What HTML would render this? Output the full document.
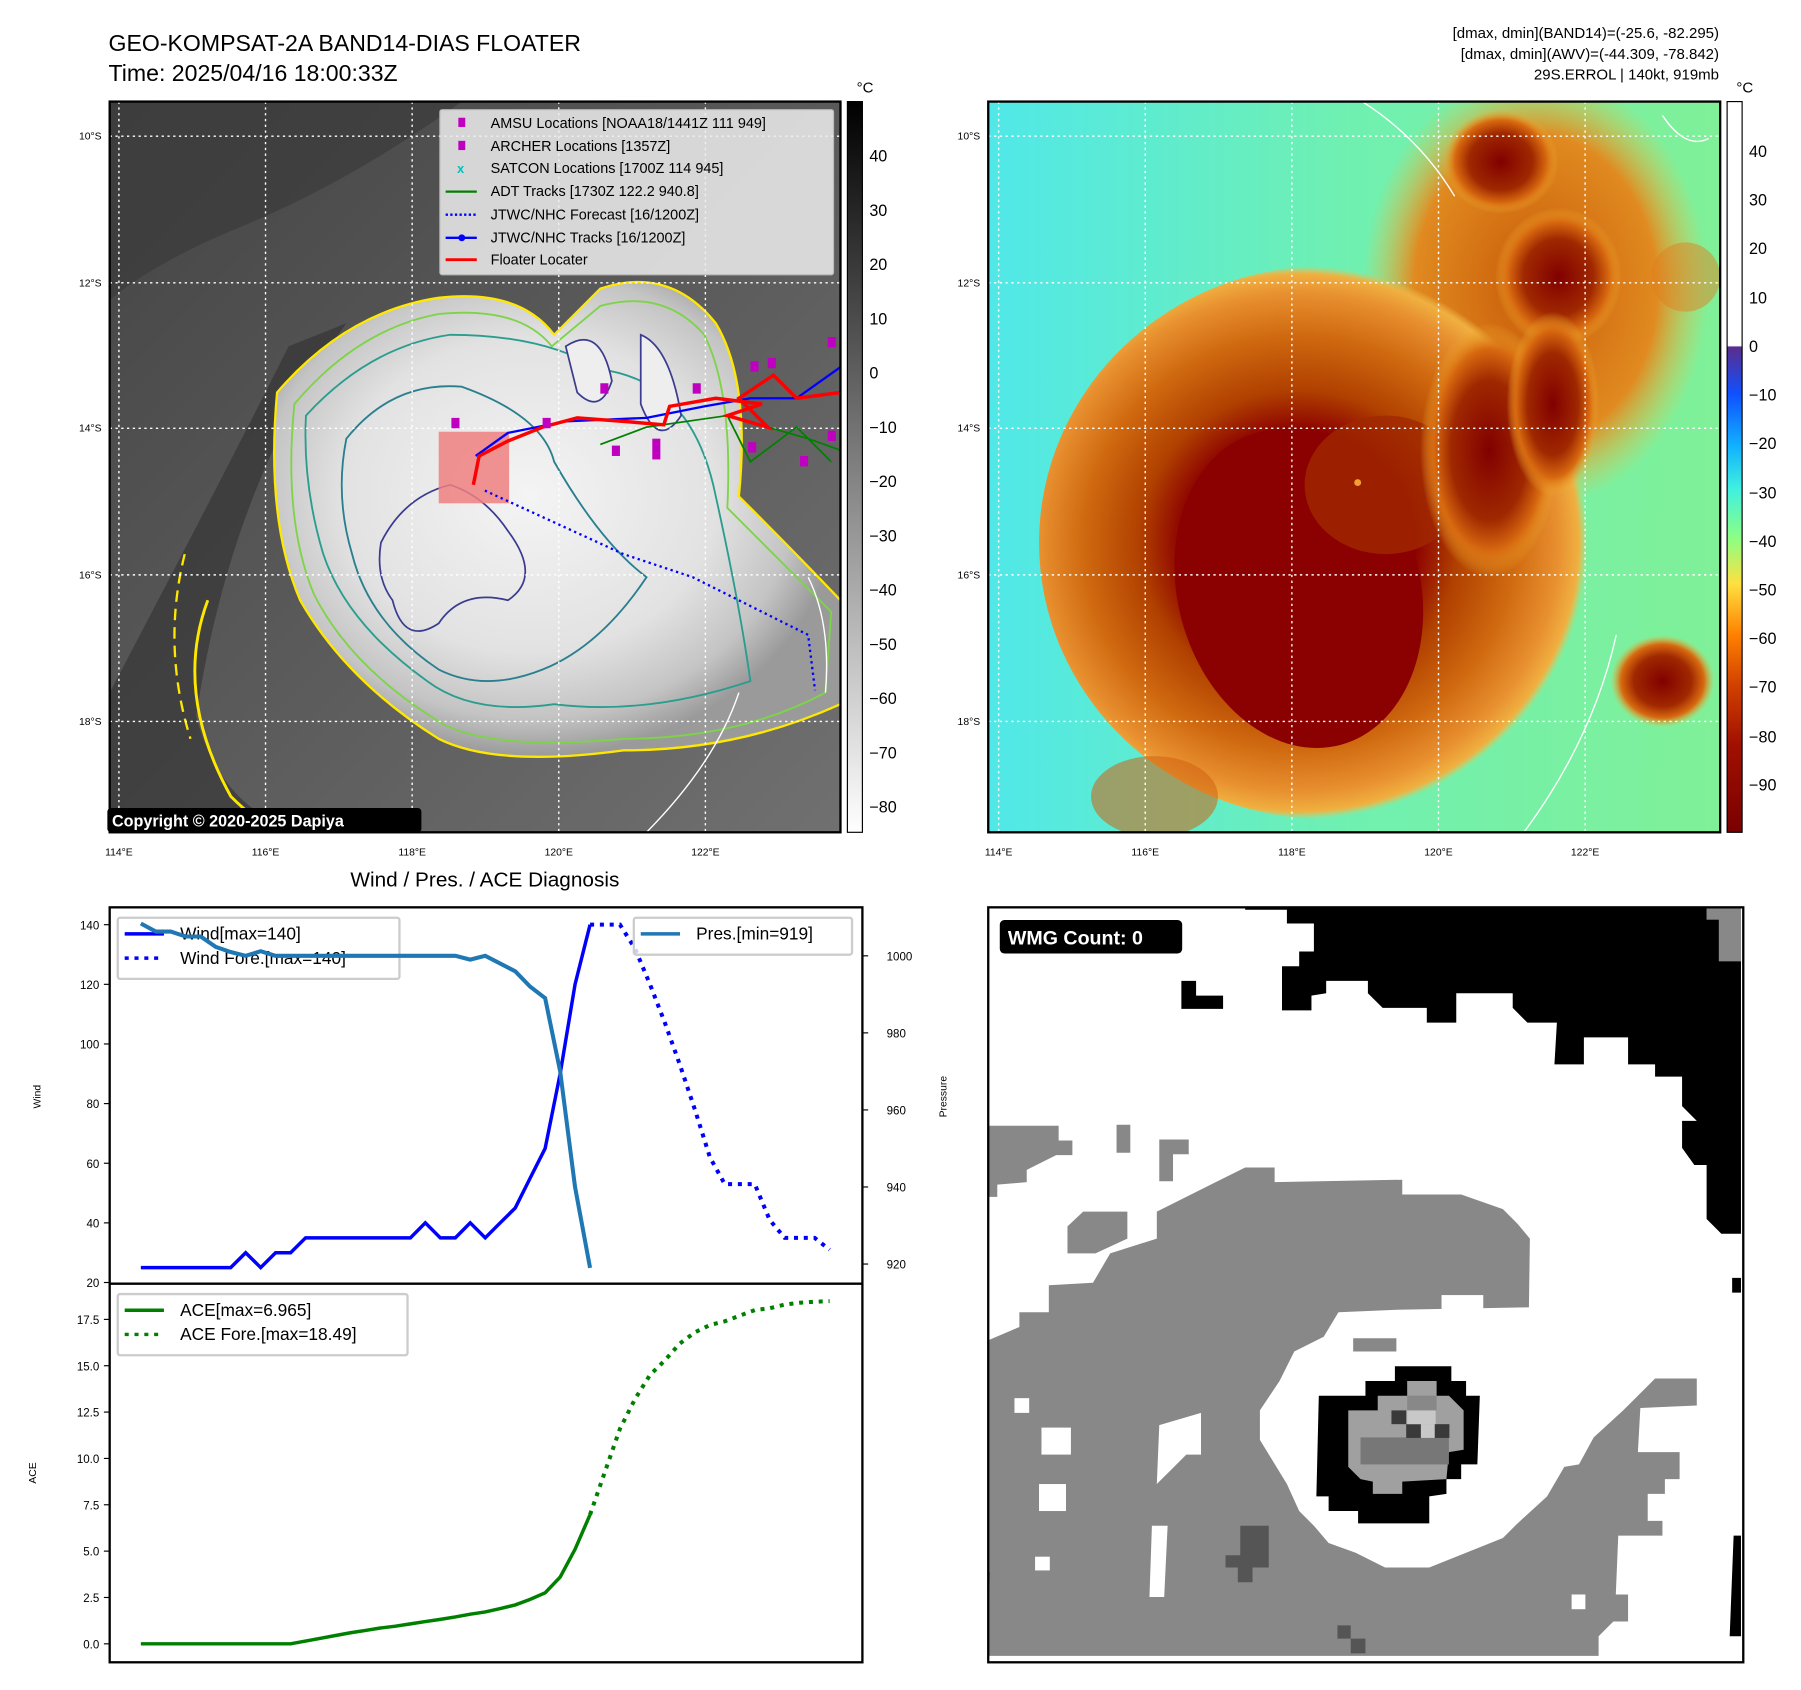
<!DOCTYPE html>
<html><head><meta charset="utf-8">
<style>
html,body{margin:0;padding:0;background:#fff;}
svg{display:block;}
text{font-family:"Liberation Sans","DejaVu Sans",sans-serif;}
</style></head>
<body>
<svg id="fig" width="1801" height="1690" viewBox="0 0 1560 1464" preserveAspectRatio="none" xmlns="http://www.w3.org/2000/svg">
<defs>
 <radialGradient id="cloudG" cx="0.45" cy="0.45" r="0.55">
  <stop offset="0" stop-color="#f4f4f4"/><stop offset="0.6" stop-color="#e2e2e2"/><stop offset="0.85" stop-color="#c4c4c4"/><stop offset="1" stop-color="#9a9a9a"/>
 </radialGradient>
 <linearGradient id="bgL" x1="0" y1="0" x2="1" y2="1">
  <stop offset="0" stop-color="#444"/><stop offset="0.5" stop-color="#5a5a5a"/><stop offset="1" stop-color="#707070"/>
 </linearGradient>
 <linearGradient id="cbL" x1="0" y1="0" x2="0" y2="1">
  <stop offset="0" stop-color="#000"/><stop offset="1" stop-color="#fff"/>
 </linearGradient>
 <linearGradient id="cbR" x1="0" y1="0" x2="0" y2="1">
  <stop offset="0" stop-color="#fff"/><stop offset="0.334" stop-color="#fff"/>
  <stop offset="0.336" stop-color="#5a2d8c"/><stop offset="0.40" stop-color="#1050ff"/>
  <stop offset="0.47" stop-color="#10b0ff"/><stop offset="0.53" stop-color="#40f0e0"/>
  <stop offset="0.60" stop-color="#90ff80"/><stop offset="0.66" stop-color="#ffe040"/>
  <stop offset="0.73" stop-color="#ff8000"/><stop offset="0.80" stop-color="#d04000"/>
  <stop offset="0.88" stop-color="#a01000"/><stop offset="1" stop-color="#7a0000"/>
 </linearGradient>
 <radialGradient id="stormR" cx="0.45" cy="0.5" r="0.5">
  <stop offset="0" stop-color="#8b0000"/><stop offset="0.4" stop-color="#8b0000"/><stop offset="0.55" stop-color="#b04000"/>
  <stop offset="0.75" stop-color="#d06a10"/><stop offset="0.9" stop-color="#e89030"/><stop offset="0.97" stop-color="#f0b040"/><stop offset="1" stop-color="#f0c050" stop-opacity="0"/>
 </radialGradient>
 <linearGradient id="bgR" x1="0" y1="0" x2="1" y2="0">
  <stop offset="0" stop-color="#50e8e8"/><stop offset="0.5" stop-color="#70f0b0"/><stop offset="1" stop-color="#80f098"/>
 </linearGradient>
 <radialGradient id="blob" cx="0.5" cy="0.5" r="0.5">
  <stop offset="0" stop-color="#800000"/><stop offset="0.55" stop-color="#a02800"/><stop offset="0.8" stop-color="#d86a10"/><stop offset="1" stop-color="#f0b030" stop-opacity="0"/>
 </radialGradient>
 <radialGradient id="blobO" cx="0.5" cy="0.5" r="0.5">
  <stop offset="0" stop-color="#c85a08"/><stop offset="0.7" stop-color="#e08a20"/><stop offset="1" stop-color="#f0c040" stop-opacity="0"/>
 </radialGradient>
 <clipPath id="clipL"><rect x="95" y="88" width="633" height="633"/></clipPath>
 <clipPath id="clipR"><rect x="856" y="88" width="634" height="633"/></clipPath>
 <clipPath id="clipB"><rect x="856" y="786" width="654" height="654"/></clipPath>
</defs>

<text x="94" y="44" font-size="20">GEO-KOMPSAT-2A BAND14-DIAS FLOATER</text>
<text x="94" y="70" font-size="20">Time: 2025/04/16 18:00:33Z</text>
<g font-size="13" text-anchor="end">
 <text x="1489" y="33">[dmax, dmin](BAND14)=(-25.6, -82.295)</text>
 <text x="1489" y="51">[dmax, dmin](AWV)=(-44.309, -78.842)</text>
 <text x="1489" y="69">29S.ERROL | 140kt, 919mb</text>
</g>

<!-- LEFT MAP -->
<g clip-path="url(#clipL)">
 <rect x="95" y="88" width="633" height="633" fill="url(#bgL)"/>
 <path d="M95,600 Q200,400 250,300 L300,280 Q200,420 170,620 Q190,700 260,721 L95,721Z" fill="#303030" opacity="0.6"/>
 <path d="M95,88 L400,88 Q300,160 200,200 Q130,230 95,260Z" fill="#3a3a3a" opacity="0.7"/>
 <path d="M240,340 Q300,270 380,258 Q450,250 480,290 L520,250 Q580,230 620,280 Q650,330 640,430 Q690,480 728,520 L728,610 Q640,650 540,650 Q430,665 380,640 Q300,590 260,520 Q230,450 240,340Z" fill="url(#cloudG)" stroke="#ffe800" stroke-width="2"/>
 <path d="M255,350 Q310,285 380,272 Q450,265 478,300 L520,265 Q575,250 610,290 Q635,340 630,440 Q680,490 720,530 L715,600 Q640,640 540,640 Q430,650 385,628 Q305,580 272,515 Q245,450 255,350Z" fill="none" stroke="#7ed348" stroke-width="1.6"/>
 <path d="M265,360 Q320,300 390,290 Q470,290 520,320 Q600,330 620,430 Q640,520 650,590 Q560,620 480,610 Q410,620 370,590 Q300,540 280,480 Q262,420 265,360Z" fill="none" stroke="#2a9d8f" stroke-width="1.6"/>
 <path d="M300,380 Q340,330 400,335 Q470,360 480,400 Q520,470 560,500 Q520,560 470,580 Q420,600 380,580 Q320,540 305,480 Q290,430 300,380Z" fill="none" stroke="#2a7f8f" stroke-width="1.6"/>
 <path d="M330,470 Q350,430 390,420 Q420,430 440,460 Q470,500 440,520 Q400,510 380,540 Q350,560 340,520 Q325,500 330,470Z" fill="none" stroke="#3b3b8f" stroke-width="1.5"/>
 <path d="M490,300 Q520,280 530,330 Q520,360 500,340Z M555,290 Q580,300 590,360 Q570,390 555,350Z" fill="#eee" stroke="#3b3b8f" stroke-width="1.5"/>
 <path d="M180,520 Q150,600 200,690 Q230,720 250,720" fill="none" stroke="#ffe800" stroke-width="2.5"/>
 <path d="M160,480 Q140,560 165,640" fill="none" stroke="#ffe800" stroke-width="2" stroke-dasharray="10 6"/>
 <path d="M640,600 Q620,660 560,721 M700,500 Q720,540 715,600" fill="none" stroke="#fff" stroke-width="1.2"/>
 <g stroke="#fff" stroke-width="1.2" stroke-dasharray="2 3">
  <line x1="95" y1="118" x2="728" y2="118"/><line x1="95" y1="245" x2="728" y2="245"/><line x1="95" y1="371" x2="728" y2="371"/><line x1="95" y1="498" x2="728" y2="498"/><line x1="95" y1="625" x2="728" y2="625"/>
  <line x1="103" y1="88" x2="103" y2="721"/><line x1="230" y1="88" x2="230" y2="721"/><line x1="357" y1="88" x2="357" y2="721"/><line x1="484" y1="88" x2="484" y2="721"/><line x1="611" y1="88" x2="611" y2="721"/>
 </g>
 <rect x="380" y="374" width="61" height="62" fill="#f08080" opacity="0.85"/>
 <path d="M420,425 L540,480 L600,500 L700,550 L706,598" fill="none" stroke="#0000ff" stroke-width="2" stroke-dasharray="2 3"/>
 <path d="M520,385 L560,370 L630,360 L700,380 L728,390 M630,360 L650,400 L690,370 L720,400" fill="none" stroke="#008000" stroke-width="1.5"/>
 <path d="M412,395 L440,375 L490,365 L560,362 L610,352 L650,345 L690,345 L728,318" fill="none" stroke="#0000ff" stroke-width="2"/>
 <path d="M410,420 L415,395 L440,382 L470,370 L500,362 L540,365 L575,368 L580,352 L620,345 L660,350 L630,360 L665,370 L640,345 L670,325 L690,345 L728,340" fill="none" stroke="#ff0000" stroke-width="3"/>
 <g fill="#c000c0">
  <rect x="391" y="362" width="7" height="9"/><rect x="470" y="362" width="7" height="9"/><rect x="520" y="332" width="7" height="9"/><rect x="530" y="386" width="7" height="9"/><rect x="565" y="380" width="7" height="18"/><rect x="600" y="332" width="7" height="9"/><rect x="650" y="313" width="7" height="9"/><rect x="665" y="310" width="7" height="9"/><rect x="648" y="383" width="7" height="9"/><rect x="693" y="395" width="7" height="9"/><rect x="717" y="292" width="7" height="9"/><rect x="717" y="373" width="7" height="9"/>
 </g>
</g>
<rect x="95" y="88" width="633" height="633" fill="none" stroke="#000" stroke-width="2"/>
<g font-size="12.5">
 <rect x="381" y="95" width="341" height="143" fill="#eee" opacity="0.85" stroke="#ccc" rx="2"/>
 <rect x="397" y="102" width="6" height="8" fill="#c000c0"/><text x="425" y="111">AMSU Locations [NOAA18/1441Z 111 949]</text>
 <rect x="397" y="122" width="6" height="8" fill="#c000c0"/><text x="425" y="131">ARCHER Locations [1357Z]</text>
 <text x="396" y="150" fill="#00c0c0" font-size="11" font-weight="bold">x</text><text x="425" y="150">SATCON Locations [1700Z 114 945]</text>
 <line x1="386" y1="166" x2="413" y2="166" stroke="#008000" stroke-width="2"/><text x="425" y="170">ADT Tracks [1730Z 122.2 940.8]</text>
 <line x1="386" y1="186" x2="413" y2="186" stroke="#0000ff" stroke-width="2" stroke-dasharray="2 2"/><text x="425" y="190">JTWC/NHC Forecast [16/1200Z]</text>
 <line x1="386" y1="206" x2="413" y2="206" stroke="#0000ff" stroke-width="2"/><circle cx="400" cy="206" r="3" fill="#0000ff"/><text x="425" y="210">JTWC/NHC Tracks [16/1200Z]</text>
 <line x1="386" y1="225" x2="413" y2="225" stroke="#ff0000" stroke-width="2.5"/><text x="425" y="229">Floater Locater</text>
</g>
<g>
 <rect x="93" y="700" width="272" height="21" rx="3" fill="#000"/>
 <text x="97" y="716" font-size="14" font-weight="bold" fill="#fff">Copyright © 2020-2025 Dapiya</text>
</g>
<g font-size="9">
 <text x="88" y="121" text-anchor="end">10°S</text><text x="88" y="248" text-anchor="end">12°S</text><text x="88" y="374" text-anchor="end">14°S</text><text x="88" y="501" text-anchor="end">16°S</text><text x="88" y="628" text-anchor="end">18°S</text>
 <text x="103" y="741" text-anchor="middle">114°E</text><text x="230" y="741" text-anchor="middle">116°E</text><text x="357" y="741" text-anchor="middle">118°E</text><text x="484" y="741" text-anchor="middle">120°E</text><text x="611" y="741" text-anchor="middle">122°E</text>
</g>
<g>
 <rect x="734" y="88" width="13" height="633" fill="url(#cbL)" stroke="#000" stroke-width="1"/>
 <text x="742" y="80" font-size="13">°C</text>
 <g font-size="14">
  <text x="753" y="140">40</text><text x="753" y="187">30</text><text x="753" y="234">20</text><text x="753" y="281">10</text><text x="753" y="328">0</text><text x="753" y="375">−10</text><text x="753" y="422">−20</text><text x="753" y="469">−30</text><text x="753" y="516">−40</text><text x="753" y="563">−50</text><text x="753" y="610">−60</text><text x="753" y="657">−70</text><text x="753" y="704">−80</text>
 </g>
</g>

<!-- RIGHT MAP -->
<g clip-path="url(#clipR)">
 <rect x="856" y="88" width="634" height="633" fill="url(#bgR)"/>
 <ellipse cx="1330" cy="250" rx="150" ry="190" fill="url(#blobO)"/>
 <ellipse cx="1150" cy="470" rx="250" ry="240" fill="url(#stormR)"/>
 <ellipse cx="1125" cy="510" rx="105" ry="140" fill="#8b0000" transform="rotate(-15 1125 510)"/>
 <ellipse cx="1200" cy="420" rx="70" ry="60" fill="#a02800" opacity="0.8"/>
 <ellipse cx="1290" cy="390" rx="60" ry="110" fill="url(#blob)"/>
 <ellipse cx="1350" cy="240" rx="55" ry="60" fill="url(#blob)"/>
 <ellipse cx="1300" cy="140" rx="50" ry="45" fill="url(#blob)"/>
 <ellipse cx="1345" cy="350" rx="40" ry="80" fill="url(#blob)"/>
 <ellipse cx="1440" cy="590" rx="45" ry="40" fill="url(#blob)"/>
 <ellipse cx="1000" cy="690" rx="55" ry="35" fill="#d06010" opacity="0.55"/>
 <ellipse cx="1460" cy="240" rx="30" ry="30" fill="#e08020" opacity="0.5"/>
 <circle cx="1176" cy="418" r="3" fill="#f0a030"/>
 <path d="M1400,550 Q1380,640 1320,721 M1440,100 Q1460,130 1480,120 M1180,88 Q1230,120 1260,170" fill="none" stroke="#fff" stroke-width="1.2"/>
 <g stroke="#fff" stroke-width="1.2" stroke-dasharray="2 3">
  <line x1="856" y1="118" x2="1490" y2="118"/><line x1="856" y1="245" x2="1490" y2="245"/><line x1="856" y1="371" x2="1490" y2="371"/><line x1="856" y1="498" x2="1490" y2="498"/><line x1="856" y1="625" x2="1490" y2="625"/>
  <line x1="865" y1="88" x2="865" y2="721"/><line x1="992" y1="88" x2="992" y2="721"/><line x1="1119" y1="88" x2="1119" y2="721"/><line x1="1246" y1="88" x2="1246" y2="721"/><line x1="1373" y1="88" x2="1373" y2="721"/>
 </g>
</g>
<rect x="856" y="88" width="634" height="633" fill="none" stroke="#000" stroke-width="2"/>
<g font-size="9">
 <text x="849" y="121" text-anchor="end">10°S</text><text x="849" y="248" text-anchor="end">12°S</text><text x="849" y="374" text-anchor="end">14°S</text><text x="849" y="501" text-anchor="end">16°S</text><text x="849" y="628" text-anchor="end">18°S</text>
 <text x="865" y="741" text-anchor="middle">114°E</text><text x="992" y="741" text-anchor="middle">116°E</text><text x="1119" y="741" text-anchor="middle">118°E</text><text x="1246" y="741" text-anchor="middle">120°E</text><text x="1373" y="741" text-anchor="middle">122°E</text>
</g>
<g>
 <rect x="1496" y="88" width="13" height="633" fill="url(#cbR)" stroke="#000" stroke-width="1"/>
 <text x="1504" y="80" font-size="13">°C</text>
 <g font-size="14">
  <text x="1515" y="136">40</text><text x="1515" y="178">30</text><text x="1515" y="220">20</text><text x="1515" y="263">10</text><text x="1515" y="305">0</text><text x="1515" y="347">−10</text><text x="1515" y="389">−20</text><text x="1515" y="432">−30</text><text x="1515" y="474">−40</text><text x="1515" y="516">−50</text><text x="1515" y="558">−60</text><text x="1515" y="600">−70</text><text x="1515" y="643">−80</text><text x="1515" y="685">−90</text>
 </g>
</g>

<!-- WMG panel -->
<g clip-path="url(#clipB)">
 <rect x="856" y="786" width="654" height="654" fill="#fff"/>
 <g transform="translate(853.2,779.6) scale(0.4252)">
  <path fill="#888" d="M0,900 L70,870 L70,840 L130,840 L130,785 L220,780 L255,720 L350,690 L350,635 L410,605 L470,575 L530,545 L590,545 L590,575 L850,570 L850,600 L970,600 L1055,630 L1085,660 L1110,690 L1108,830 L840,835 L720,840 L690,890 L630,920 L600,980 L560,1040 L560,1100 L615,1190 L640,1245 L670,1275 L700,1310 L755,1330 L815,1360 L905,1360 L1055,1300 L1085,1270 L1145,1215 L1180,1155 L1210,1150 L1240,1095 L1300,1040 L1335,1005 L1365,975 L1450,975 L1450,1030 L1335,1035 L1330,1125 L1415,1125 L1415,1180 L1385,1180 L1385,1210 L1350,1210 L1350,1265 L1380,1265 L1380,1295 L1290,1295 L1285,1415 L1310,1415 L1310,1470 L1280,1470 L1250,1500 L1250,1540 L0,1540Z"/>
  <path fill="#888" d="M0,460 L150,460 L150,490 L178,490 L178,520 L145,520 L85,550 L85,575 L25,580 L25,605 L0,605Z M168,665 L200,635 L290,635 L290,690 L225,720 L168,720Z M268,458 L296,458 L296,515 L268,515Z M355,488 L415,488 L415,518 L383,518 L383,573 L355,573Z M750,893 L838,893 L838,920 L750,920Z M1470,10 L1540,10 L1540,125 L1495,125 L1495,40 L1470,40Z"/>
  <g fill="#fff">
   <path d="M355,1070 L440,1045 L440,1130 L410,1130 L380,1160 L350,1190Z"/>
   <path d="M340,1275 L372,1275 L365,1420 L335,1420Z"/>
   <rect x="115" y="1075" width="60" height="55"/><rect x="110" y="1190" width="55" height="55"/><rect x="60" y="1015" width="30" height="30"/><rect x="102" y="1338" width="30" height="28"/><rect x="1195" y="1415" width="28" height="30"/>
   <rect x="930" y="805" width="85" height="30"/>
  </g>
  <path fill="#000" d="M530,8 L1470,8 L1470,40 L1495,40 L1495,125 L1540,125 L1540,680 L1500,680 L1470,650 L1470,540 L1445,540 L1420,505 L1420,450 L1450,450 L1420,420 L1420,360 L1365,360 L1365,335 L1310,335 L1310,280 L1220,280 L1220,335 L1160,335 L1165,250 L1105,250 L1075,220 L1075,190 L960,190 L960,250 L900,250 L900,220 L810,220 L780,190 L780,165 L695,165 L695,190 L665,195 L665,225 L605,225 L605,135 L640,135 L640,105 L670,105 L670,48 L615,48 L615,20 L530,20Z"/>
  <path fill="#000" d="M400,165 L430,165 L430,195 L485,195 L485,222 L400,222Z M1525,1295 L1540,1295 L1540,1500 L1517,1500Z M1522,770 L1540,770 L1540,800 L1522,800Z"/>
  <path fill="#555" d="M520,1275 L578,1275 L578,1360 L545,1360 L545,1390 L515,1390 L515,1360 L490,1360 L490,1335 L520,1335Z M718,1478 L745,1478 L745,1505 L775,1505 L775,1535 L745,1535 L745,1505 L718,1505Z M0,1370 L10,1370 L5,1535 L0,1535Z"/>
  <path fill="#000" d="M680,1010 L775,1010 L775,980 L835,980 L835,950 L950,950 L950,980 L980,980 L980,1010 L1008,1010 L1003,1150 L970,1150 L970,1180 L940,1180 L940,1210 L905,1215 L905,1270 L760,1270 L760,1245 L700,1245 L700,1215 L675,1215Z"/>
  <path fill="#a0a0a0" d="M740,1040 L800,1040 L800,1010 L860,1010 L860,980 L920,980 L920,1010 L945,1010 L975,1040 L975,1120 L945,1125 L940,1180 L850,1185 L850,1210 L790,1210 L790,1185 L765,1180 L740,1155Z"/>
  <rect x="765" y="1095" width="180" height="55" fill="#777"/>
  <rect x="860" y="1010" width="60" height="30" fill="#888"/>
  <rect x="828" y="1040" width="30" height="28" fill="#3a3a3a"/><rect x="858" y="1068" width="30" height="28" fill="#3a3a3a"/><rect x="916" y="1068" width="30" height="28" fill="#3a3a3a"/>
  <rect x="860" y="1040" width="58" height="28" fill="#c8c8c8"/><rect x="888" y="1068" width="28" height="28" fill="#c8c8c8"/>
 </g>
</g>
<rect x="856" y="786" width="654" height="654" fill="none" stroke="#000" stroke-width="2"/>
<g>
 <rect x="866" y="797" width="158" height="29" rx="4" fill="#000"/>
 <text x="873" y="818" font-size="17" font-weight="bold" fill="#fff">WMG Count: 0</text>
</g>

<!-- DIAGNOSIS CHART -->
<text x="420" y="768" font-size="18" text-anchor="middle">Wind / Pres. / ACE Diagnosis</text>
<g id="chart"></g>
<text transform="translate(35,950) rotate(-90)" font-size="9" text-anchor="middle">Wind</text>
<text transform="translate(820,950) rotate(-90)" font-size="9" text-anchor="middle">Pressure</text>
<text transform="translate(31,1276) rotate(-90)" font-size="9" text-anchor="middle">ACE</text>
</svg>
<script>
const windObs = [25,25,25,25,25,25,25,30,25,30,30,35,35,35,35,35,35,35,35,40,35,35,40,35,40,45,55,65,90,120,140];
const windFore = [140,140,140,132,120,107,93,78,62,53,53,53,41,35,35,35,31];
const presObs = [1008.4,1006.3,1006.3,1005,1005,1002.3,1001,1000,1001.2,1000,1000,1000,1000,1000,1000,1000,1000,1000,1000,1000,1000,1000,999,1000,998,996,992,989,970,940,919];
const aceObs = [0,0,0,0,0,0,0,0,0,0,0,0.15,0.3,0.45,0.6,0.72,0.85,0.95,1.08,1.2,1.32,1.45,1.6,1.72,1.9,2.1,2.4,2.75,3.6,5.1,6.965];
const aceFore = [6.965,9.3,11.6,13.2,14.5,15.3,16.2,16.8,17.2,17.4,17.7,18.0,18.1,18.3,18.4,18.45,18.49];
const windTicks = [20,40,60,80,100,120,140];
const presTicks = [920,940,960,980,1000];
const aceTicks = [0,2.5,5,7.5,10,12.5,15,17.5];

const NS='http://www.w3.org/2000/svg';
const g=document.getElementById('chart');
const L=95,R=747,T1=786,B1=1112,T2=1112,B2=1440;
const xIdx=i=>122+i*12.97;
const yWind=v=>1111-(v-20)*2.583;
const yPres=v=>1095-(v-920)*3.3375;
const yAce=v=>1424-v*16.06;
function el(tag,attrs,parent){const e=document.createElementNS(NS,tag);for(const k in attrs)e.setAttribute(k,attrs[k]);(parent||g).appendChild(e);return e;}
function pts(arr,off,yf){return arr.map((v,i)=>xIdx(i+off).toFixed(1)+','+yf(v).toFixed(1)).join(' ');}

const frame=el('rect',{x:L,y:T1,width:R-L,height:B2-T1,fill:'none',stroke:'#000','stroke-width':2});


const div=el('line',{x1:L,y1:T2,x2:R,y2:T2,stroke:'#000','stroke-width':2});



windTicks.forEach(v=>{const y=yWind(v);el('line',{x1:L-5,y1:y,x2:L,y2:y,stroke:'#000'});const t=el('text',{x:L-9,y:y+4,'font-size':10,'text-anchor':'end'});t.textContent=v;

});
presTicks.forEach(v=>{const y=yPres(v);el('line',{x1:R,y1:y,x2:R+5,y2:y,stroke:'#000'});const t=el('text',{x:R+21,y:y+4,'font-size':10});t.textContent=v;

});
aceTicks.forEach(v=>{const y=yAce(v);el('line',{x1:L-5,y1:y,x2:L,y2:y,stroke:'#000'});const t=el('text',{x:L-9,y:y+4,'font-size':10,'text-anchor':'end'});t.textContent=v.toFixed(1);

});

const wl=el('polyline',{points:pts(windObs,0,yWind),fill:'none',stroke:'#0000ff','stroke-width':3});


const wf=el('polyline',{points:pts(windFore,windObs.length-1,yWind),fill:'none',stroke:'#0000ff','stroke-width':3.5,'stroke-dasharray':'3.5 5'});



function legend(x,y,w,h,items,name){
 const lg=el('g',{});
 
 
 el('rect',{x:x,y:y,width:w,height:h,fill:'#fff','fill-opacity':0.8,stroke:'#ccc','stroke-width':2,rx:2},lg);
 items.forEach((it,i)=>{const yy=y+14+i*21;
  const a={x1:x+6,y1:yy,x2:x+40,y2:yy,stroke:it.c,'stroke-width':3};if(it.d)a['stroke-dasharray']='3.5 5';el('line',a,lg);
  const t=el('text',{x:x+54,y:yy+5,'font-size':15},lg);t.textContent=it.t;});
}
legend(102,795,244,53,[{c:'#0000ff',t:'Wind[max=140]'},{c:'#0000ff',t:'Wind Fore.[max=140]',d:1}],'wind-legend');

const pl=el('polyline',{points:pts(presObs,0,yPres),fill:'none',stroke:'#1f77b4','stroke-width':3.5});


const al=el('polyline',{points:pts(aceObs,0,yAce),fill:'none',stroke:'#008000','stroke-width':3});


const af=el('polyline',{points:pts(aceFore,aceObs.length-1,yAce),fill:'none',stroke:'#008000','stroke-width':3.5,'stroke-dasharray':'3.5 5'});



legend(549,795,189,32,[{c:'#1f77b4',t:'Pres.[min=919]'}],'pressure-legend');
legend(102,1121,251,53,[{c:'#008000',t:'ACE[max=6.965]'},{c:'#008000',t:'ACE Fore.[max=18.49]',d:1}],'ace-legend');
</script>
</body></html>
